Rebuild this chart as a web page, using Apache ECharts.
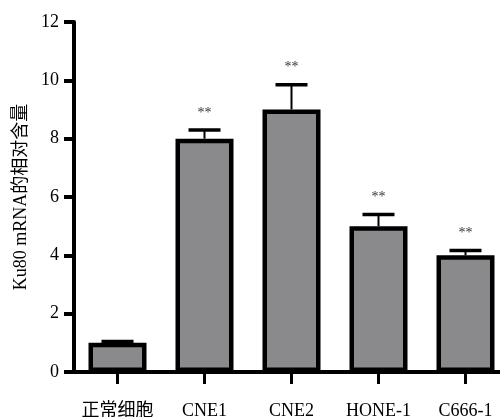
<!DOCTYPE html>
<html>
<head>
<meta charset="utf-8">
<script src="https://cdn.jsdelivr.net/npm/echarts@6/dist/echarts.min.js"></script>
<style>
  html, body { margin: 0; padding: 0; background: #fff; }
  #chart { width: 500px; height: 417px; }
</style>
</head>
<body>
<div id="chart"></div>
<script>
  var categories = ['正常细胞', 'CNE1', 'CNE2', 'HONE-1', 'C666-1'];
  var means = [1.0, 8.0, 9.0, 5.0, 4.0];
  var upper = [1.05, 8.3, 9.85, 5.4, 4.17];
  var marks = ['', '**', '**', '**', '**'];
  var yTicks = [0, 2, 4, 6, 8, 10, 12];

  var FONT = "'Liberation Serif', 'Noto Sans CJK SC', serif";

  var chart = echarts.init(document.getElementById('chart'), null, { renderer: 'canvas' });

  // error bars + significance marks drawn on top of the bars
  function renderError(params, api) {
    var i = api.value(0);
    var top = api.coord([i, api.value(2)]);
    var base = api.coord([i, api.value(1)]);
    var half = 16;
    var children = [
      {
        type: 'line',
        shape: { x1: top[0], y1: top[1], x2: base[0], y2: base[1] },
        style: { stroke: '#000', lineWidth: 2 }
      },
      {
        type: 'line',
        shape: { x1: top[0] - half, y1: top[1], x2: top[0] + half, y2: top[1] },
        style: { stroke: '#000', lineWidth: 3.5 }
      }
    ];
    var mark = marks[i];
    if (mark) {
      children.push({
        type: 'text',
        style: {
          text: mark, x: top[0], y: top[1] - 17,
          align: 'center', verticalAlign: 'middle',
          fill: '#333', font: '14px ' + FONT
        }
      });
    }
    return { type: 'group', children: children };
  }

  var errData = categories.map(function (c, i) { return [i, means[i], upper[i]]; });

  chart.setOption({
    animation: false,
    grid: { left: 74, top: 22, height: 350, width: 435, containLabel: false, outerBoundsMode: 'none' },
    xAxis: {
      type: 'category',
      data: categories,
      axisLine: { lineStyle: { color: '#000', width: 4 } },
      axisTick: { show: true, alignWithLabel: true, length: 12, lineStyle: { color: '#000', width: 3 } },
      axisLabel: { color: '#000', fontSize: 18, fontFamily: FONT, margin: 30, interval: 0 }
    },
    yAxis: {
      type: 'value',
      min: yTicks[0],
      max: yTicks[yTicks.length - 1],
      interval: 2,
      name: 'Ku80 mRNA的相对含量',
      nameLocation: 'middle',
      nameGap: 40,
      nameTextStyle: { color: '#000', fontSize: 18, fontFamily: FONT },
      axisLine: { show: true, lineStyle: { color: '#000', width: 4 } },
      axisTick: { show: true, inside: false, length: 10, lineStyle: { color: '#000', width: 4 } },
      axisLabel: { color: '#000', fontSize: 18, fontFamily: FONT, margin: 15 },
      splitLine: { show: false }
    },
    series: [
      {
        type: 'bar',
        data: means,
        barWidth: 58,
        itemStyle: { color: '#8a8a8c', borderColor: '#000', borderWidth: 4.5 }
      },
      {
        type: 'custom',
        renderItem: renderError,
        data: errData,
        z: 5
      }
    ]
  });
</script>
</body>
</html>
